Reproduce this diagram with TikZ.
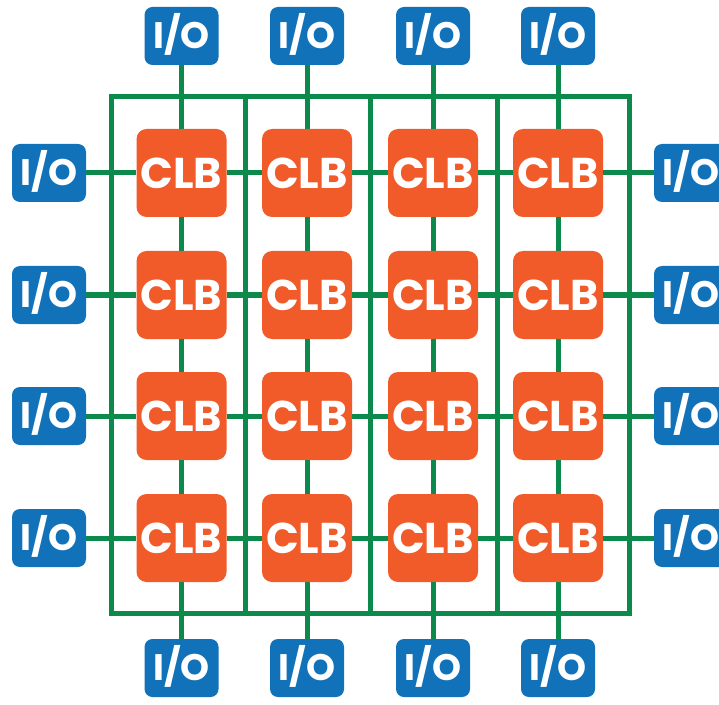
\documentclass[tikz,border=0pt]{standalone}
\usepackage{fontspec}
\setmainfont{Poppins}
\usepackage{tikz}

\definecolor{clborange}{HTML}{F15A29}
\definecolor{ioblue}{HTML}{1172BA}
\definecolor{wiregreen}{HTML}{0B8A4B}

\tikzset{
    wire/.style = {draw = wiregreen, line width = 0.1cm},
    clbbox/.style = {fill = clborange, rounded corners = 0.2cm, minimum width = 1.8cm, minimum height = 1.76cm,
        inner sep = 0pt, text = white, font = \fontsize{24.5}{24.5}\selectfont\bfseries, text height = 17.2pt, text depth = 0pt},
    iobox/.style = {fill = ioblue, rounded corners = 0.16cm, minimum width = 1.48cm, minimum height = 1.16cm,
        inner sep = 0pt, text = white, font = \fontsize{21}{21}\selectfont\bfseries, text height = 14.7pt, text depth = 0pt}
}

\begin{document}
\begin{tikzpicture}
    \useasboundingbox (0,0) rectangle (14.38,14.08);

    \draw [wire] (2.22,1.82) rectangle (12.58,12.14);
    \draw [wire] (4.90,1.82) -- (4.90,12.14);
    \draw [wire] (7.40,1.82) -- (7.40,12.14);
    \draw [wire] (9.94,1.82) -- (9.94,12.14);

    \foreach \c/\x in {1/3.63, 2/6.14, 3/8.66, 4/11.16} {
        \foreach \r/\y in {1/10.62, 2/8.18, 3/5.76, 4/3.32}
            \node [clbbox] (c\r\c) at (\x,\y) {CLB};
        \node [iobox] (iot\c) at (\x,13.36) {I/O};
        \node [iobox] (iob\c) at (\x,0.72) {I/O};
    }
    \foreach \r/\y in {1/10.62, 2/8.18, 3/5.76, 4/3.32} {
        \node [iobox] (iol\r) at (0.98,\y) {I/O};
        \node [iobox] (ior\r) at (13.82,\y) {I/O};
    }

    \foreach \r in {1,2,3,4}
        \draw [wire] (iol\r) -- (c\r1) -- (c\r2) -- (c\r3) -- (c\r4) -- (ior\r);
    \foreach \c in {1,2,3,4}
        \draw [wire] (iot\c) -- (c1\c) -- (c2\c) -- (c3\c) -- (c4\c) -- (iob\c);
\end{tikzpicture}
\end{document}
